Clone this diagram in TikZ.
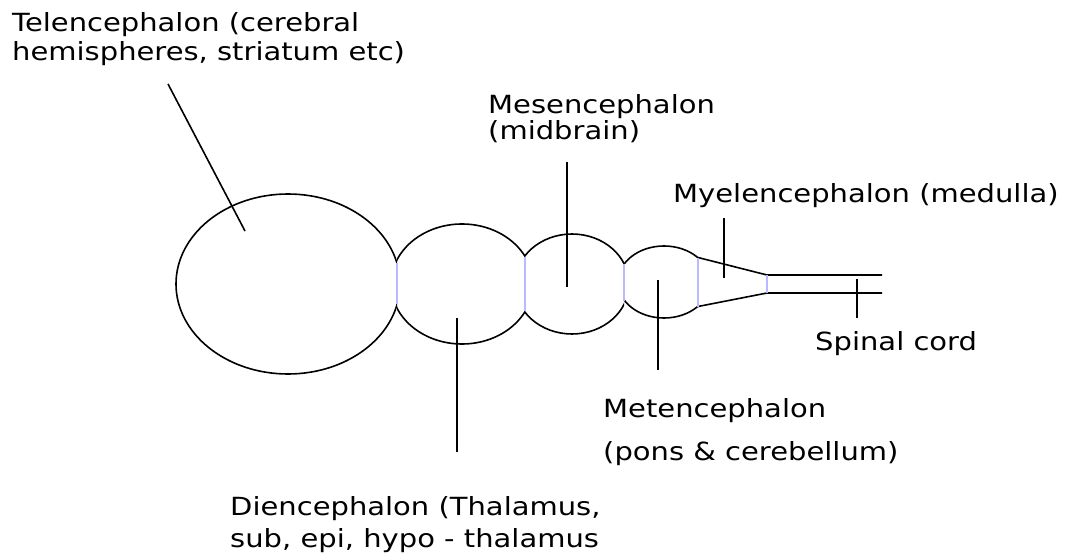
\documentclass[tikz,border=0pt]{standalone}
\usepackage{fontspec}
\setmainfont{DejaVu Sans}[FakeStretch=1.16]
\definecolor{sepblue}{RGB}{185,185,255}
\tikzset{
  outline/.style={line width=1.6pt, black},
  sep/.style={line width=1.5pt, sepblue},
  pointer/.style={line width=1.6pt, black},
  lbl/.style={anchor=base west, inner sep=0pt, font=\fontsize{25}{30}\selectfont}
}
\begin{document}
\begin{tikzpicture}[x=1pt,y=-1pt]
\useasboundingbox (0,0) rectangle (1070,556);
% brain vesicles (clipped ellipses)
\begin{scope}
  \clip (0,0) rectangle (397,556);
  \draw[outline] (288,284) ellipse [x radius=112, y radius=90];
\end{scope}
\begin{scope}
  \clip (397,0) rectangle (525,556);
  \draw[outline] (462,284) ellipse [x radius=71, y radius=60];
\end{scope}
\begin{scope}
  \clip (525,0) rectangle (624,556);
  \draw[outline] (572,284) ellipse [x radius=57, y radius=50];
\end{scope}
\begin{scope}
  \clip (624,0) rectangle (698,556);
  \draw[outline] (664,282) ellipse [x radius=46, y radius=36];
\end{scope}
% myelencephalon and spinal cord
\coordinate (m1) at (698,257.5);
\coordinate (m2) at (698,306.5);
\coordinate (s1) at (767,275);
\coordinate (s2) at (767,293);
\coordinate (e1) at (882,275);
\coordinate (e2) at (882,293);
\draw[outline] (m1) -- (s1) -- (e1);
\draw[outline] (m2) -- (s2) -- (e2);
% separators
\draw[sep] (397,263) -- (397,304);
\draw[sep] (525,257) -- (525,311);
\draw[sep] (624,264) -- (624,301);
\draw[sep] (m1) -- (m2);
\draw[sep] (s1) -- (s2);
% labels
\node[lbl] (tel1) at (12,32) {Telencephalon (cerebral};
\node[lbl] (tel2) at (12,61) {hemispheres, striatum etc)};
\node[lbl] (mes1) at (488,114) {Mesencephalon};
\node[lbl] (mes2) at (488,140) {(midbrain)};
\node[lbl] (mye) at (673,203) {Myelencephalon (medulla)};
\node[lbl] (spc) at (815,350) {Spinal cord};
\node[lbl] (met1) at (603,417) {Metencephalon};
\node[lbl] (met2) at (603,460) {(pons \& cerebellum)};
\node[lbl] (die1) at (230,515) {Diencephalon (Thalamus,};
\node[lbl] (die2) at (230,547) {sub, epi, hypo - thalamus};
% pointer lines
\coordinate (pt0) at (168,84);   \coordinate (pt1) at (245,231);
\coordinate (pd0) at (457,318);  \coordinate (pd1) at (457,452);
\coordinate (pm0) at (567,162);  \coordinate (pm1) at (567,287);
\coordinate (py0) at (724,218);  \coordinate (py1) at (724,278);
\coordinate (pe0) at (658,280);  \coordinate (pe1) at (658,370);
\coordinate (ps0) at (857,279);  \coordinate (ps1) at (857,318);
\draw[pointer] (pt0) -- (pt1);
\draw[pointer] (pd0) -- (pd1);
\draw[pointer] (pm0) -- (pm1);
\draw[pointer] (py0) -- (py1);
\draw[pointer] (pe0) -- (pe1);
\draw[pointer] (ps0) -- (ps1);
\end{tikzpicture}
\end{document}
